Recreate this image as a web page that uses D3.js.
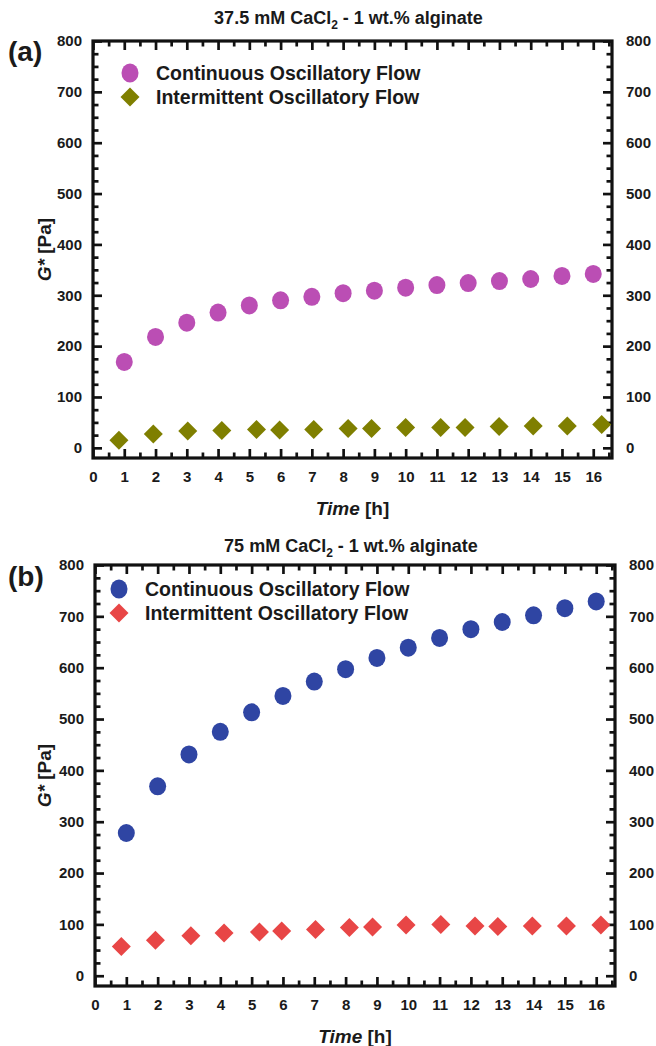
<!DOCTYPE html>
<html>
<head>
<meta charset="utf-8">
<title>G* vs time</title>
<script src="https://cdn.jsdelivr.net/npm/d3@7"></script>
<style>
body { margin: 0; background: #fff; }
svg text { font-family: "Liberation Sans", Arial, sans-serif; font-weight: bold; fill: #1a1a1a; }
.frame { fill: none; stroke: #111; stroke-width: 3.2; }
.tick line { stroke: #111; stroke-width: 2.7; }
.domain { display: none; }
</style>
</head>
<body>
<svg width="656" height="1046"></svg>
<script>

// continuous flow: measured each hour
var hours = [1, 2, 3, 4, 5, 6, 7, 8, 9, 10, 11, 12, 13, 14, 15, 16];
var contA = [169, 218, 246, 266, 280, 290, 297, 304, 309, 315, 320, 324, 328, 332, 338, 342];
var contB = [278, 369, 431, 475, 513, 545, 573, 597, 619, 639, 658, 675, 689, 702, 716, 729];

// intermittent flow: slightly irregular times
var interTimeA = [0.83, 1.93, 3.03, 4.12, 5.23, 5.97, 7.06, 8.16, 8.91, 10.0, 11.12, 11.9, 12.99, 14.08, 15.17, 16.27];
var interA = [15, 27, 33, 34, 36, 35, 36, 38, 38, 40, 40, 40, 42, 43, 43, 46];
var interTimeB = [0.84, 1.93, 3.06, 4.12, 5.25, 5.96, 7.04, 8.12, 8.86, 9.93, 11.04, 12.13, 12.86, 13.96, 15.05, 16.15];
var interB = [57, 69, 78, 83, 85, 87, 90, 94, 95, 99, 100, 97, 96, 97, 97, 99];

var xTicks = d3.range(0, 17);
var yTicks = [0, 100, 200, 300, 400, 500, 600, 700, 800];

var seriesNames = ["Continuous Oscillatory Flow", "Intermittent Oscillatory Flow"];

var svg = d3.select("svg");

var panels = [
  { label: "(a)", conc: "37.5", cont: contA, interT: interTimeA, inter: interA,
    c1: "#bb4eb4", c2: "#7f7f00",
    left: 93, right: 612, top: 41, bottom: 458, titleY: 24, labelY: 61,
    legX: 130, legY: 73 },
  { label: "(b)", conc: "75", cont: contB, interT: interTimeB, inter: interB,
    c1: "#2f45a3", c2: "#e84646",
    left: 95, right: 615, top: 565, bottom: 986, titleY: 552, labelY: 586,
    legX: 119, legY: 589 }
];

panels.forEach(function(p) {
  var x = d3.scaleLinear().domain([0, 16.6]).range([p.left, p.right]);
  var y = d3.scaleLinear().domain([-20, 800]).range([p.bottom, p.top]);
  var g = svg.append("g");
  var cx = (p.left + p.right) / 2;

  // title with subscript
  var t = g.append("text").attr("x", cx - 4).attr("y", p.titleY)
      .attr("text-anchor", "middle").style("font-size", "18px");
  t.append("tspan").text(p.conc + " mM CaCl");
  t.append("tspan").attr("dy", 5).style("font-size", "12px").text("2");
  t.append("tspan").attr("dy", -5).text(" - 1 wt.% alginate");

  g.append("text").attr("x", 8).attr("y", p.labelY)
      .style("font-size", "28px").text(p.label);

  // axes: ticks pointing inward
  var minorX = d3.range(0.5, 16.6, 1);
  var minorY = d3.range(0, 801, 25).filter(function(v) { return v % 100 != 0; });

  g.append("g").attr("transform", "translate(0," + p.bottom + ")")
      .call(d3.axisBottom(x).tickValues(xTicks).tickSize(-9).tickPadding(13).tickFormat(d3.format("d")))
      .call(function(a) { a.selectAll("text").style("font-size", "15px"); });
  g.append("g").attr("transform", "translate(0," + p.bottom + ")")
      .call(d3.axisBottom(x).tickValues(minorX).tickSize(-5.5).tickFormat(""));
  g.append("g").attr("transform", "translate(0," + p.top + ")")
      .call(d3.axisTop(x).tickValues(xTicks).tickSize(-9).tickFormat(""));
  g.append("g").attr("transform", "translate(0," + p.top + ")")
      .call(d3.axisTop(x).tickValues(minorX).tickSize(-5.5).tickFormat(""));

  g.append("g").attr("transform", "translate(" + p.left + ",0)")
      .call(d3.axisLeft(y).tickValues(yTicks).tickSize(-9).tickPadding(11))
      .call(function(a) { a.selectAll("text").style("font-size", "15px"); });
  g.append("g").attr("transform", "translate(" + p.left + ",0)")
      .call(d3.axisLeft(y).tickValues(minorY).tickSize(-5.5).tickFormat(""));
  g.append("g").attr("transform", "translate(" + p.right + ",0)")
      .call(d3.axisRight(y).tickValues(yTicks).tickSize(-9).tickPadding(14))
      .call(function(a) { a.selectAll("text").style("font-size", "15px"); });
  g.append("g").attr("transform", "translate(" + p.right + ",0)")
      .call(d3.axisRight(y).tickValues(minorY).tickSize(-5.5).tickFormat(""));

  g.append("rect").attr("class", "frame")
      .attr("x", p.left).attr("y", p.top)
      .attr("width", p.right - p.left).attr("height", p.bottom - p.top);

  // axis titles
  var xt = g.append("text").attr("x", cx).attr("y", p.bottom + 57)
      .attr("text-anchor", "middle").style("font-size", "19px");
  xt.append("tspan").style("font-style", "italic").text("Time");
  xt.append("tspan").text(" [h]");

  var yt = g.append("text")
      .attr("transform", "translate(51," + y(390) + ") rotate(-90)")
      .attr("text-anchor", "middle").style("font-size", "19px");
  yt.append("tspan").style("font-style", "italic").text("G*");
  yt.append("tspan").text(" [Pa]");

  // data
  var diamond = d3.symbol().type(d3.symbolDiamond2).size(230);

  g.append("g").selectAll("path")
    .data(p.inter.map(function(v, i) { return [p.interT[i], v]; }))
    .enter().append("path")
      .attr("d", diamond)
      .attr("transform", function(d) { return "translate(" + x(d[0]) + "," + y(d[1]) + ")"; })
      .attr("fill", p.c2);

  g.append("g").selectAll("ellipse")
    .data(p.cont.map(function(v, i) { return [hours[i], v]; }))
    .enter().append("ellipse")
      .attr("cx", function(d) { return x(d[0]); })
      .attr("cy", function(d) { return y(d[1]); })
      .attr("rx", 8.5).attr("ry", 9)
      .attr("fill", p.c1);

  // legend
  var leg = g.append("g").attr("transform", "translate(" + p.legX + "," + p.legY + ")");
  leg.append("ellipse").attr("rx", 8.5).attr("ry", 9.5).attr("fill", p.c1);
  leg.append("path").attr("d", diamond).attr("transform", "translate(0,24)").attr("fill", p.c2);
  leg.selectAll("text").data(seriesNames).enter().append("text")
      .attr("x", 26).attr("y", function(d, i) { return i * 24 + 7; })
      .style("font-size", "19.5px").text(function(d) { return d; });
});

</script>
</body>
</html>
